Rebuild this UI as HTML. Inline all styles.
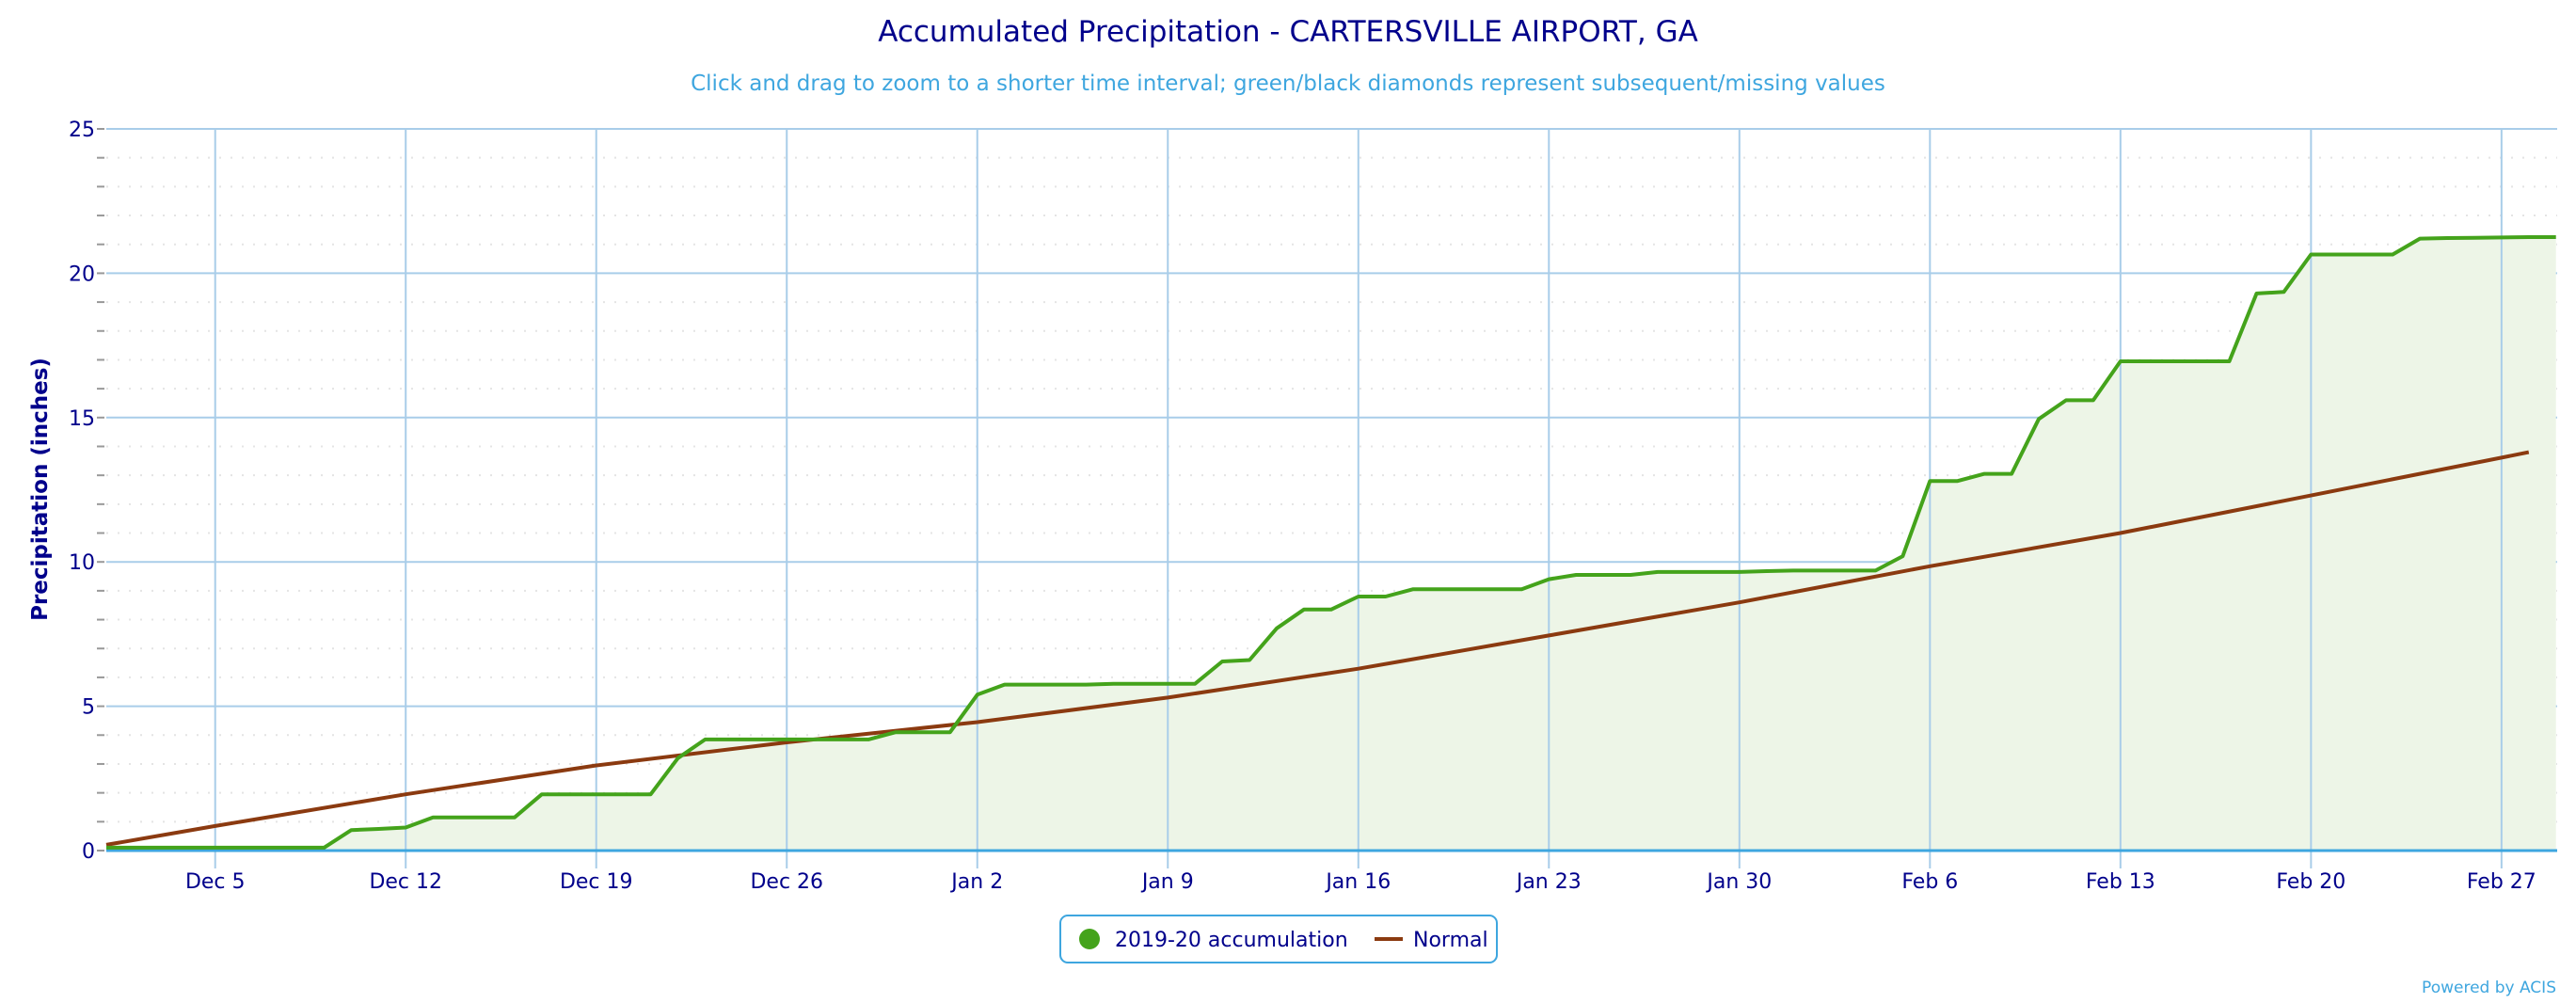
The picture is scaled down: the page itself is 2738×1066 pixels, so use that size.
<!DOCTYPE html>
<html><head><meta charset="utf-8">
<style>
html,body{margin:0;padding:0;background:#fff;}
svg{display:block;}
text{font-family:"DejaVu Sans","Liberation Sans",sans-serif;}
</style></head>
<body>
<svg id="s" width="2738" height="1066" xmlns="http://www.w3.org/2000/svg">
<rect width="2738" height="1066" fill="#fff"/>
<g id="grid"></g>
<path id="area" fill="#edf5e7" stroke="none"/>
<g id="vgrid"></g>
<line x1="113" y1="904" x2="2718" y2="904" stroke="#3ea6df" stroke-width="3"/>
<path id="normal" fill="none" stroke="#8b3a10" stroke-width="4" stroke-linejoin="round"/>
<path id="green" fill="none" stroke="#44a31b" stroke-width="4" stroke-linejoin="round"/>
<g id="labels" fill="#00008b" font-size="22"></g>
<text x="1369" y="44" text-anchor="middle" font-size="31" fill="#00008b">Accumulated Precipitation - CARTERSVILLE AIRPORT, GA</text>
<text x="1369" y="96" text-anchor="middle" font-size="23" fill="#3ea6df">Click and drag to zoom to a shorter time interval; green/black diamonds represent subsequent/missing values</text>
<text transform="translate(50,520) rotate(-90)" text-anchor="middle" font-size="23" font-weight="bold" fill="#00008b">Precipitation (inches)</text>
<rect x="1127" y="973" width="464" height="50" rx="8" fill="#fff" stroke="#3ea6df" stroke-width="2"/>
<circle cx="1158" cy="998" r="11" fill="#44a31b"/>
<text x="1185" y="1006" font-size="22" fill="#00008b">2019-20 accumulation</text>
<line x1="1461" y1="998" x2="1491" y2="998" stroke="#8b3a10" stroke-width="4"/>
<text x="1502" y="1006" font-size="22" fill="#00008b">Normal</text>
<text x="2717" y="1055" text-anchor="end" font-size="17" fill="#3ea6df">Powered by ACIS</text>
</svg>
<script>
var NS="http://www.w3.org/2000/svg";
var X0=113,DX=28.93,Y0=904,DY=30.68;
function X(d){return X0+d*DX;}function Y(v){return Y0-v*DY;}
function el(p,t,a,txt){var e=document.createElementNS(NS,t);for(var k in a)e.setAttribute(k,a[k]);if(txt)e.textContent=txt;document.getElementById(p).appendChild(e);}
for(var v=1;v<=25;v++){var y=Y(v);
 if(v%5==0){el("grid","line",{x1:113,x2:2718,y1:y,y2:y,stroke:"#a9cde9","stroke-width":2});}
 else{el("grid","line",{x1:113,x2:2718,y1:y,y2:y,stroke:"#e4e4e4","stroke-width":2,"stroke-dasharray":"2,10"});}
 el("grid","line",{x1:103,x2:111,y1:y,y2:y,stroke:"#999","stroke-width":2});}
el("grid","line",{x1:103,x2:111,y1:904,y2:904,stroke:"#999","stroke-width":2});
for(var v=0;v<=25;v+=5){el("labels","text",{x:101,y:Y(v)+8,"text-anchor":"end"},""+v);}
var names=["Dec 5","Dec 12","Dec 19","Dec 26","Jan 2","Jan 9","Jan 16","Jan 23","Jan 30","Feb 6","Feb 13","Feb 20","Feb 27"];
for(var i=0;i<13;i++){var x=X(4+7*i);
 el("vgrid","line",{x1:x,x2:x,y1:137,y2:923,stroke:"#a9cde9","stroke-width":2});
 el("labels","text",{x:x,y:944,"text-anchor":"middle"},names[i]);}
var g=[0.1,0.1,0.1,0.1,0.1,0.1,0.1,0.1,0.1,0.71,0.75,0.8,1.15,1.15,1.15,1.15,1.95,1.95,1.95,1.95,1.95,3.2,3.85,3.85,3.85,3.85,3.85,3.85,3.85,4.1,4.1,4.1,5.4,5.75,5.75,5.75,5.75,5.78,5.78,5.78,5.78,6.55,6.6,7.7,8.35,8.35,8.8,8.8,9.05,9.05,9.05,9.05,9.05,9.4,9.55,9.55,9.55,9.65,9.65,9.65,9.65,9.68,9.7,9.7,9.7,9.7,10.2,12.8,12.8,13.05,13.05,14.95,15.6,15.6,16.95,16.95,16.95,16.95,16.95,19.3,19.35,20.65,20.65,20.65,20.65,21.2,21.22,21.23,21.24,21.25,21.25];
var d="";for(var i=0;i<g.length;i++){d+=(i?"L":"M")+X(i).toFixed(1)+","+Y(g[i]).toFixed(1);}
document.getElementById("green").setAttribute("d",d);
document.getElementById("area").setAttribute("d",d+"L"+X(90).toFixed(1)+",904L113,904Z");
var an=[[0,0.2],[4,0.85],[11,1.95],[18,2.95],[25,3.75],[32,4.45],[39,5.3],[46,6.3],[53,7.45],[60,8.6],[67,9.85],[74,11.0],[81,12.3],[89,13.8]];
var n="";for(var i=0;i<an.length;i++){n+=(i?"L":"M")+X(an[i][0]).toFixed(1)+","+Y(an[i][1]).toFixed(1);}
document.getElementById("normal").setAttribute("d",n);
</script>
</body></html>
